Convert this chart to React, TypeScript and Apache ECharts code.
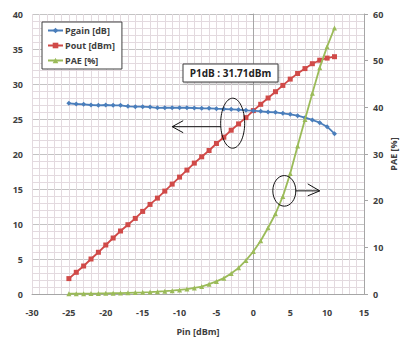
import React, { useEffect, useRef } from "react";
import * as echarts from "echarts";

const PIN = [-25, -24, -23, -22, -21, -20, -19, -18, -17, -16, -15, -14, -13, -12, -11, -10, -9, -8, -7, -6, -5, -4, -3, -2, -1, 0, 1, 2, 3, 4, 5, 6, 7, 8, 9, 10, 11];
const PGAIN = [27.24, 27.14, 27.1, 27.0, 26.96, 27.0, 26.96, 26.96, 26.81, 26.76, 26.76, 26.71, 26.6, 26.61, 26.61, 26.61, 26.61, 26.57, 26.53, 26.53, 26.47, 26.43, 26.38, 26.33, 26.24, 26.19, 26.1, 26.0, 25.95, 25.81, 25.67, 25.47, 25.19, 24.86, 24.47, 23.9, 22.9];
const POUT = [2.2, 3.1, 4.0, 5.0, 5.96, 7.0, 8.0, 9.0, 9.9, 10.8, 11.8, 12.8, 13.7, 14.7, 15.7, 16.7, 17.7, 18.7, 19.6, 20.5, 21.5, 22.4, 23.4, 24.3, 25.2, 26.2, 27.1, 28.0, 28.9, 29.8, 30.7, 31.5, 32.2, 32.9, 33.4, 33.7, 33.9];
const PAE = [0.05, 0.07, 0.08, 0.1, 0.12, 0.15, 0.18, 0.2, 0.25, 0.3, 0.35, 0.42, 0.5, 0.6, 0.72, 0.88, 1.05, 1.3, 1.6, 2.1, 2.7, 3.4, 4.4, 5.6, 7.2, 9.1, 11.4, 14.2, 17.2, 20.9, 25.8, 31.7, 37.4, 43, 48.5, 53, 57];

const SERIES_NAMES = ["Pgain [dB]", "Pout [dBm]", "PAE [%]"];
const X_TITLE = "Pin [dBm]";
const Y2_TITLE = "PAE [%]";
const P1DB_LABEL = "P1dB : 31.71dBm";

export default function App() {
  const ref = useRef<HTMLDivElement>(null);
  useEffect(() => {
    const chart = echarts.init(ref.current!, null, { renderer: "svg" });
    const font = "'Open Sans', 'Noto Sans', sans-serif";
    const txt = "#404040";
    const axisCol = "#A6A6A6";
    const minorCol = "#E3DADF";
    const majorCol = "#C4C4C4";
    const lbl = { color: txt, fontFamily: font, fontSize: 9, fontWeight: "bold" as const };

    const mk = (ys: number[]) => PIN.map((x, i) => [x, ys[i]]);

    chart.setOption({
      animation: false,
      backgroundColor: "#fff",
      grid: { left: 32, right: 37, top: 14, bottom: 45, containLabel: false, outerBoundsMode: "none" },
      legend: {
        orient: "vertical",
        left: 42,
        top: 22,
        backgroundColor: "#fff",
        borderColor: "#404040",
        borderWidth: 1,
        borderRadius: 0,
        padding: [4, 7, 4, 5],
        itemWidth: 15,
        itemHeight: 7,
        itemGap: 6,
        textStyle: { ...lbl, padding: [0, 0, 0, -3] },
        data: SERIES_NAMES,
      },
      xAxis: {
        type: "value",
        min: -30,
        max: 15,
        interval: 5,
        name: X_TITLE,
        nameLocation: "middle",
        nameGap: 33,
        nameMoveOverlap: false,
        nameTextStyle: { ...lbl, fontSize: 9 },
        axisLine: { show: true, onZero: false, lineStyle: { color: axisCol } },
        axisTick: { show: false },
        axisLabel: { ...lbl, margin: 14 },
        splitLine: { show: true, lineStyle: { color: minorCol, width: 1 } },
        minorTick: { show: false, splitNumber: 5 },
        minorSplitLine: { show: true, lineStyle: { color: minorCol, width: 1 } },
      },
      yAxis: [
        {
          type: "value",
          min: 0,
          max: 40,
          interval: 5,
          position: "left",
          axisLine: { show: true, lineStyle: { color: axisCol } },
          axisTick: { show: true, length: 4, lineStyle: { color: axisCol } },
          axisLabel: { ...lbl, margin: 9 },
          splitLine: { show: true, lineStyle: { color: majorCol, width: 1 } },
          minorTick: { show: false, splitNumber: 5 },
          minorSplitLine: { show: true, lineStyle: { color: minorCol, width: 1 } },
        },
        {
          type: "value",
          min: 0,
          max: 60,
          interval: 10,
          position: "right",
          name: Y2_TITLE,
          nameLocation: "middle",
          nameRotate: 90,
          nameGap: 25,
          nameMoveOverlap: false,
          nameTextStyle: lbl,
          axisLine: { show: true, lineStyle: { color: axisCol } },
          axisTick: { show: true, length: 4, lineStyle: { color: axisCol } },
          axisLabel: { ...lbl, margin: 9 },
          splitLine: { show: false },
        },
      ],
      series: [
        {
          name: SERIES_NAMES[0],
          type: "line",
          data: mk(PGAIN),
          yAxisIndex: 0,
          symbol: "diamond",
          symbolSize: 5,
          color: "#4A7EBB",
          lineStyle: { width: 1.8 },
          z: 3,
        },
        {
          name: SERIES_NAMES[1],
          type: "line",
          data: mk(POUT),
          yAxisIndex: 0,
          symbol: "rect",
          symbolSize: 5,
          color: "#D04A48",
          lineStyle: { width: 1.8 },
          z: 2,
        },
        {
          name: SERIES_NAMES[2],
          type: "line",
          data: mk(PAE),
          yAxisIndex: 1,
          symbol: "triangle",
          symbolSize: 5,
          color: "#9BBB59",
          lineStyle: { width: 1.8 },
          z: 4,
        },
      ],
    });

    const toPx = (si: number, x: number, y: number) => chart.convertToPixel({ seriesIndex: si }, [x, y]) as number[];
    const e1 = toPx(1, -2.8, 24.4);
    const a1s = toPx(1, -4.4, 23.9);
    const a1e = toPx(1, -11.0, 23.9);
    const e2 = toPx(2, 4.2, 22.1);
    const a2s = toPx(2, 5.7, 22.1);
    const a2e = toPx(2, 9.0, 22.1);
    const stroke = { stroke: "#111", lineWidth: 1, fill: "none" };

    chart.setOption({
      graphic: [
        {
          type: "rect",
          shape: { x: 183, y: 64, width: 95, height: 18 },
          style: { fill: "#fff", stroke: "#404040", lineWidth: 1, shadowBlur: 2, shadowColor: "rgba(0,0,0,0.25)", shadowOffsetX: 1, shadowOffsetY: 1 },
          z: 100,
        },
        {
          type: "text",
          x: 230.5,
          y: 73,
          style: { text: P1DB_LABEL, fill: "#222", font: `bold 10px ${font}`, align: "center", verticalAlign: "middle" },
          z: 101,
        },
        { type: "ellipse", shape: { cx: e1[0], cy: e1[1], rx: 12, ry: 25 }, style: stroke, z: 100 },
        { type: "line", shape: { x1: a1s[0], y1: a1s[1], x2: a1e[0], y2: a1e[1] }, style: stroke, z: 100 },
        { type: "polyline", shape: { points: [[a1e[0] + 11, a1e[1] - 6], [a1e[0], a1e[1]], [a1e[0] + 11, a1e[1] + 6]] }, style: stroke, z: 100 },
        { type: "ellipse", shape: { cx: e2[0], cy: e2[1], rx: 11.5, ry: 15.3 }, style: stroke, z: 100 },
        { type: "line", shape: { x1: a2s[0], y1: a2s[1], x2: a2e[0], y2: a2e[1] }, style: stroke, z: 100 },
        { type: "polyline", shape: { points: [[a2e[0] - 12, a2e[1] - 7], [a2e[0], a2e[1]], [a2e[0] - 12, a2e[1] + 5]] }, style: stroke, z: 100 },
      ],
    });

    return () => chart.dispose();
  }, []);
  return <div ref={ref} style={{ position: "absolute", left: 0, top: 0, width: 401, height: 339, background: "#fff" }} />;
}
